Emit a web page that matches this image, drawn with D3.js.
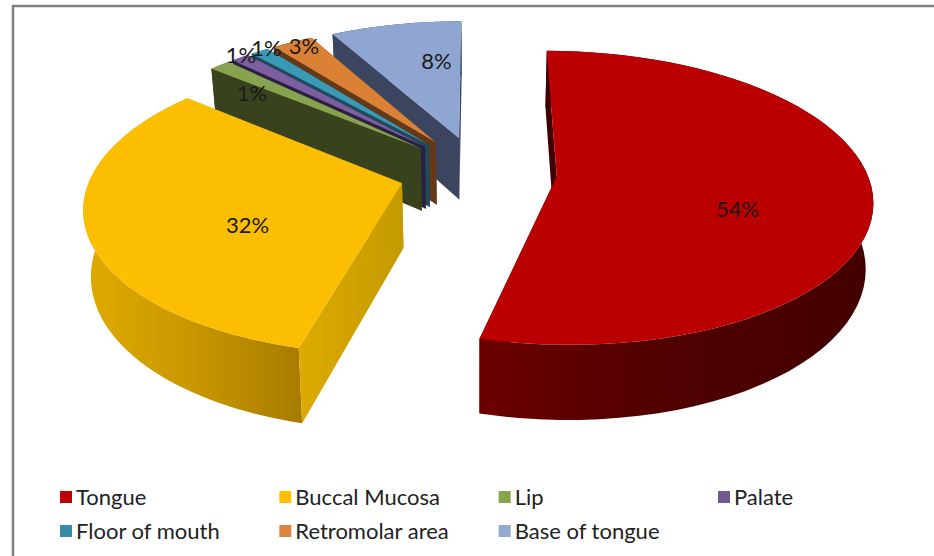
<!DOCTYPE html>
<html>
<head>
<meta charset="utf-8">
<script src="https://cdn.jsdelivr.net/npm/d3@7"></script>
<style>
  html, body { margin: 0; padding: 0; background: #fff; }
  svg { display: block; font-family: Lato, "Open Sans", sans-serif; }
</style>
</head>
<body>
<div id="piechart"></div>
<script>
// Chart data
const sites = ["Tongue", "Buccal Mucosa", "Lip", "Palate", "Floor of mouth", "Retromolar area", "Base of tongue"];
const shares = [54, 32, 1.3, 1.1, 1.1, 2.5, 8];
const topColors = ["#ba0000", "#fbbe00", "#87a34f", "#7c5fa0", "#3a9ab5", "#da8136", "#8fa6d3"];
const sideColors = ["#3f0000", "#cfa000", "#38431e", "#2c1f44", "#1f4a5a", "#63391a", "#3b4560"];
const legendColors = ["#c00000", "#ffc000", "#86a44a", "#71588f", "#358ca7", "#db843d", "#93a9cf"];

const width = 934;
const height = 556;

// Pie geometry, fitted to the tilted view
const center = { x: 478, y: 172 };
const radius = 310;
const explode = 79;
const thickness = 64;
const tilt = 0.46;
const perspective = 0.000465;
const verticalFalloff = 1 / 3300;

// Label offsets from the default anchor (Excel moved the small ones by hand)
const labelNudge = [[10, 1], [14, -6], [-55, -28], [-79, -60], [-66, -63], [-50, -58], [14, -30]];

const svg = d3.select("#piechart")
    .append("svg")
    .attr("width", width)
    .attr("height", height);

// Frame, only top and left edges show in the source
svg.append("path")
    .attr("d", `M13,${height}V6H${width}`)
    .attr("fill", "none")
    .attr("stroke", "#808080")
    .attr("stroke-width", 2.5);

// Project a point on the pie: angle clockwise from the far side, r from apex, z downward
const project = (arc, angle, r, z) => {
    const mid = (arc.startAngle + arc.endAngle) / 2;
    const X = explode * Math.sin(mid) + r * Math.sin(angle);
    const Y = -explode * Math.cos(mid) - r * Math.cos(angle);
    const s = 1 / (1 - perspective * Y);
    const shrink = 1 - z * verticalFalloff;
    return [
        center.x + X * s * shrink,
        center.y + tilt * Y * s + z * s
    ];
};

const arcPoints = (arc, z) => d3.range(0, 61)
    .map(i => project(arc, arc.startAngle + (arc.endAngle - arc.startAngle) * i / 60, radius, z));

const outline = d3.line().curve(d3.curveLinear);

const slices = d3.pie().sort(null).startAngle(0).endAngle(2 * Math.PI)(shares);

// Gradients for the lit walls
const defs = svg.append("defs");
const addGradient = (id, x1, x2, stops) => {
    const gradient = defs.append("linearGradient")
        .attr("id", id)
        .attr("gradientUnits", "userSpaceOnUse")
        .attr("x1", x1).attr("x2", x2)
        .attr("y1", 0).attr("y2", 0);
    stops.forEach(([offset, color]) => {
        gradient.append("stop").attr("offset", offset).attr("stop-color", color);
    });
};
addGradient("tongueWall", 478, 865, [[0, "#6c0000"], [0.45, "#520000"], [1, "#440000"]]);
addGradient("buccalWall", 88, 303, [[0, "#e0aa00"], [0.5, "#c89600"], [1, "#a87b00"]]);
addGradient("buccalSide", 303, 405, [[0, "#dcaa00"], [1, "#c49a00"]]);

const outerFill = ["url(#tongueWall)", "url(#buccalWall)"];
const startFill = ["#3f0000", "url(#buccalSide)"];

// Paint far slices first, then the near ones over them
const paintOrder = [6, 5, 4, 3, 2, 1, 0];
const pie = svg.append("g");

paintOrder.forEach(i => {
    const arc = slices[i];
    const g = pie.append("g").attr("class", "slice");
    const apexTop = project(arc, arc.startAngle, 0, 0);
    const apexBottom = project(arc, arc.startAngle, 0, thickness);
    const topArc = arcPoints(arc, 0);
    const bottomArc = arcPoints(arc, thickness);

    // End wall
    g.append("path")
        .attr("d", outline([apexTop, topArc[60], bottomArc[60], apexBottom]) + "Z")
        .attr("fill", sideColors[i]);

    // Outer rim
    g.append("path")
        .attr("d", outline(topArc.concat(bottomArc.slice().reverse())) + "Z")
        .attr("fill", outerFill[i] || sideColors[i]);

    // Start wall
    g.append("path")
        .attr("d", outline([apexTop, topArc[0], bottomArc[0], apexBottom]) + "Z")
        .attr("fill", startFill[i] || sideColors[i]);

    // Top face
    g.append("path")
        .attr("d", outline([apexTop].concat(topArc)) + "Z")
        .attr("fill", topColors[i]);
});

// Data labels
const labelFormat = d3.format(".0f");
svg.append("g")
    .selectAll("text")
    .data(slices)
    .join("text")
    .attr("x", (d, i) => project(d, (d.startAngle + d.endAngle) / 2, 0.55 * radius, 21)[0] + labelNudge[i][0])
    .attr("y", (d, i) => project(d, (d.startAngle + d.endAngle) / 2, 0.55 * radius, 21)[1] + labelNudge[i][1])
    .attr("text-anchor", "middle")
    .attr("dominant-baseline", "central")
    .style("font-size", "22px")
    .attr("fill", "#1a1a1a")
    .text(d => `${Math.max(1, +labelFormat(d.value))}%`);

// Legend, four columns
const legendX = d3.scalePoint().domain([0, 1, 2, 3]).range([60, 718]);
const legendY = d3.scalePoint().domain([0, 1]).range([497, 531]);

const legend = svg.append("g")
    .selectAll("g")
    .data(sites)
    .join("g")
    .attr("transform", (d, i) => `translate(${legendX(i % 4)},${legendY(Math.floor(i / 4))})`);

legend.append("rect")
    .attr("y", -6)
    .attr("width", 12)
    .attr("height", 12)
    .attr("fill", (d, i) => legendColors[i]);

legend.append("text")
    .attr("x", 16)
    .attr("y", -1)
    .attr("dominant-baseline", "central")
    .style("font-size", "22px")
    .attr("fill", "#222")
    .text(d => d);
</script>
</body>
</html>
